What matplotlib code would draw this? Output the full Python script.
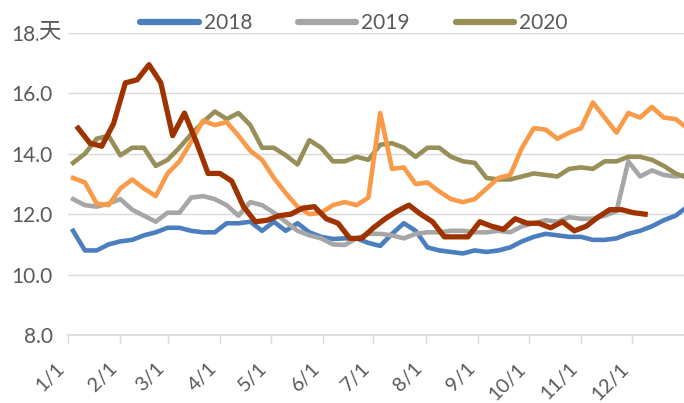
import matplotlib
matplotlib.use("Agg")
import matplotlib.pyplot as plt
import numpy as np

plt.rcParams['font.family'] = ['Lato', 'Noto Sans CJK SC', 'DejaVu Sans']

# weekly readings, day-of-year axis
days_main = np.arange(53) * 7 + 3
days_red = np.arange(49) * 7 + 6

s2018 = [11.45, 10.8, 10.8, 11.0, 11.1, 11.15, 11.3, 11.4, 11.55, 11.55,
         11.45, 11.4, 11.4, 11.7, 11.7, 11.75, 11.45, 11.75, 11.45, 11.7,
         11.4, 11.25, 11.18, 11.2, 11.2, 11.05, 10.95, 11.35, 11.7, 11.45,
         10.9, 10.8, 10.75, 10.7, 10.8, 10.75, 10.8, 10.9, 11.1, 11.25,
         11.35, 11.3, 11.25, 11.25, 11.15, 11.15, 11.2, 11.35, 11.45, 11.6,
         11.8, 11.95, 12.25]
s2019 = [12.5, 12.3, 12.25, 12.35, 12.5, 12.15, 11.95, 11.75, 12.05, 12.05,
         12.55, 12.6, 12.5, 12.3, 11.95, 12.4, 12.3, 12.05, 11.75, 11.45,
         11.3, 11.2, 11.0, 10.98, 11.2, 11.35, 11.35, 11.3, 11.2, 11.35,
         11.4, 11.4, 11.45, 11.45, 11.4, 11.4, 11.45, 11.4, 11.6, 11.7,
         11.8, 11.75, 11.9, 11.85, 11.85, 11.95, 12.1, 13.75, 13.25, 13.45,
         13.3, 13.25, 13.3]
s2020 = [13.7, 14.0, 14.5, 14.6, 13.95, 14.2, 14.2, 13.6, 13.8, 14.2,
         14.65, 15.05, 15.4, 15.15, 15.35, 14.95, 14.2, 14.2, 13.95, 13.65,
         14.45, 14.2, 13.75, 13.75, 13.9, 13.8, 14.3, 14.35, 14.2, 13.9,
         14.2, 14.2, 13.9, 13.75, 13.7, 13.2, 13.15, 13.15, 13.25, 13.35,
         13.3, 13.25, 13.5, 13.55, 13.5, 13.75, 13.75, 13.9, 13.9, 13.8,
         13.6, 13.35, 13.2]
s2021 = [13.2, 13.05, 12.35, 12.3, 12.85, 13.15, 12.85, 12.6, 13.35, 13.75,
         14.4, 15.1, 14.95, 15.05, 14.6, 14.1, 13.8, 13.2, 12.7, 12.25,
         12.0, 12.05, 12.3, 12.4, 12.3, 12.55, 15.35, 13.5, 13.55, 13.0,
         13.05, 12.75, 12.5, 12.4, 12.5, 12.85, 13.2, 13.3, 14.2, 14.85,
         14.8, 14.5, 14.7, 14.85, 15.7, 15.2, 14.7, 15.35, 15.2, 15.55,
         15.2, 15.15, 14.85]
s2022 = [14.85, 14.35, 14.25, 15.0, 16.35, 16.45, 16.95, 16.35, 14.6, 15.35,
         14.4, 13.35, 13.35, 13.1, 12.25, 11.75, 11.8, 11.95, 12.0, 12.2,
         12.25, 11.85, 11.7, 11.2, 11.2, 11.55, 11.85, 12.1, 12.3, 12.0,
         11.75, 11.25, 11.25, 11.25, 11.75, 11.6, 11.5, 11.85, 11.7, 11.7,
         11.55, 11.75, 11.45, 11.6, 11.9, 12.15, 12.15, 12.05, 12.0]

month_starts = [0, 31, 59, 90, 120, 151, 181, 212, 243, 273, 304, 334]
month_labels = ['1/1', '2/1', '3/1', '4/1', '5/1', '6/1', '7/1', '8/1',
                '9/1', '10/1', '11/1', '12/1']
yticks = [8.0, 10.0, 12.0, 14.0, 16.0, 18.0]

fig = plt.figure(figsize=(6.84, 4.03), dpi=100)
ax = fig.add_axes([68 / 684, 1 - 335 / 403, 1 - 68 / 684, (335 - 33) / 403])

l1, = ax.plot(days_main, s2018, color='#4A7EBF', lw=3.3, label='2018', solid_joinstyle='round')
l2, = ax.plot(days_main, s2019, color='#A6A6A6', lw=3.3, label='2019', solid_joinstyle='round')
l3, = ax.plot(days_main, s2020, color='#978F57', lw=3.3, label='2020', solid_joinstyle='round')
ax.plot(days_main, s2021, color='#F99A48', lw=3.3, solid_joinstyle='round')
ax.plot(days_red, s2022, color='#9E3300', lw=3.8, solid_joinstyle='round')

ax.set_xlim(0, 365)
ax.set_ylim(8, 18)
ax.set_yticks(yticks)
ax.set_yticklabels(['%.1f' % v for v in yticks])
ax.set_xticks(month_starts)
ax.set_xticklabels(month_labels, rotation=45, ha='right', va='top')
ax.grid(axis='y', color='#D9D9D9', lw=1.0)
ax.set_axisbelow(True)
for side in ['top', 'right', 'left']:
    ax.spines[side].set_visible(False)
ax.spines['bottom'].set_color('#D9D9D9')
ax.spines['bottom'].set_linewidth(1.2)
ax.tick_params(axis='y', length=0, labelsize=15, labelcolor='#595959', pad=11)
ax.tick_params(axis='x', length=5.8, color='#D9D9D9', width=1.0,
               labelsize=14.5, labelcolor='#595959', pad=12)

fig.text(38 / 684, 1 - 31 / 403, '天', fontsize=16, color='#595959',
         ha='left', va='center', family=['Noto Sans CJK SC', 'DejaVu Sans'],
         bbox=dict(facecolor='white', edgecolor='none', pad=0.3))

fig.legend(handles=[l1, l2, l3], loc='center', bbox_to_anchor=(354 / 684, 1 - 23 / 403),
           ncol=3, frameon=False, fontsize=15, labelcolor='#595959',
           handlelength=2.8, handletextpad=0.25, columnspacing=2.2)
for h in fig.legends[0].legend_handles:
    h.set_linewidth(4.5)
    h.set_solid_capstyle('round')

fig.savefig('out.png', dpi=100)
